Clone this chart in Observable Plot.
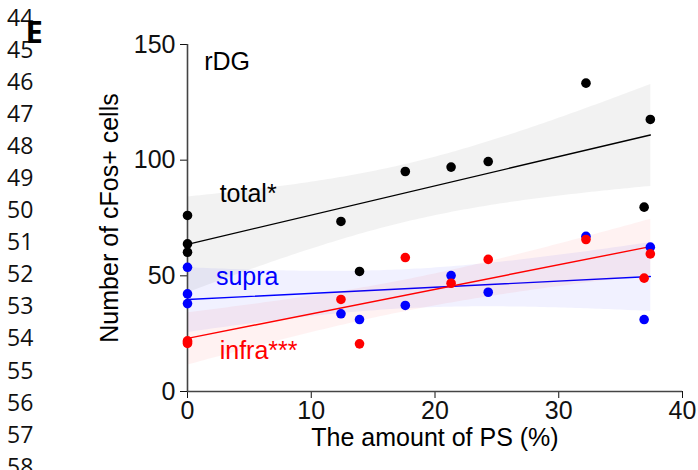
<!DOCTYPE html>
<html>
<head>
<meta charset="utf-8">
<script src="https://cdn.jsdelivr.net/npm/d3@7"></script>
<script src="https://cdn.jsdelivr.net/npm/@observablehq/plot@0.6"></script>
<style>
  html, body { margin: 0; padding: 0; background: #fff; }
  #wrap { position: relative; width: 698px; height: 470px; overflow: hidden; }
  #chart { position: absolute; left: 0; top: 0; }
  #lines { position: absolute; left: 7px; top: 0.5px; font-family: "Open Sans", sans-serif; font-size: 23px; line-height: 32.1px; color: #111; z-index: 2; }
  #panel { position: absolute; left: 25.5px; top: 15.6px; font-family: "Open Sans", sans-serif; font-weight: 700; font-size: 31px; line-height: 31px; color: #000; z-index: 3; }
</style>
</head>
<body>
<div id="wrap">
  <div id="chart"></div>
  <div id="lines"></div>
  <div id="panel">E</div>
</div>
<script>
// ---- data ----
const lineNumbers = [44, 45, 46, 47, 48, 49, 50, 51, 52, 53, 54, 55, 56, 57, 58];
const ps    = [0, 0, 0, 12.4, 13.9, 17.6, 21.3, 24.3, 32.2, 36.9, 37.4];
const total = [76.1, 63.8, 60.2, 73.5, 51.9, 95.1, 97.0, 99.4, 133.3, 79.7, 117.6];
const supra = [53.7, 42.2, 38.0, 33.6, 31.1, 37.2, 50.1, 42.9, 67.1, 31.1, 62.4];
const infra = [21.9, 20.8, 21.4, 39.8, 20.6, 57.9, 46.8, 57.1, 65.7, 49.0, 59.5];
const xTicks = [0, 10, 20, 30, 40];
const yTicks = [0, 50, 100, 150];
const xLabel = "The amount of PS (%)";
const yLabel = "Number of cFos+ cells";
const panelTitle = "rDG";
const seriesLabels = ["total*", "supra", "infra***"];

document.getElementById("lines").innerHTML = lineNumbers.map(n => `<div>${n}</div>`).join("");

const rows = ps.map((x, i) => ({ps: x, total: total[i], supra: supra[i], infra: infra[i]}));

const chart = Plot.plot({
  width: 698,
  height: 470,
  marginLeft: 187,
  marginRight: 16,
  marginTop: 44,
  marginBottom: 79,
  style: {fontFamily: "'Liberation Sans', Arial, sans-serif", fontSize: "25px", color: "#111", background: "transparent", overflow: "visible"},
  x: {domain: [0, 40], ticks: xTicks, tickSize: 7, tickPadding: 3, label: null},
  y: {domain: [0, 150], ticks: yTicks, tickSize: 7, tickPadding: 5, label: null},
  marks: [
    Plot.linearRegressionY(rows, {x: "ps", y: "total", stroke: "#000", fill: "#000", fillOpacity: 0.05, strokeWidth: 1.4}),
    Plot.linearRegressionY(rows, {x: "ps", y: "supra", stroke: "#0000ff", fill: "#0000ff", fillOpacity: 0.055, strokeWidth: 1.4}),
    Plot.linearRegressionY(rows, {x: "ps", y: "infra", stroke: "#ff0000", fill: "#ff0000", fillOpacity: 0.05, strokeWidth: 1.4}),
    Plot.ruleX([0], {y1: 0, y2: 150, stroke: "#444", strokeWidth: 1.6}),
    Plot.ruleY([0], {x1: 0, x2: 40, stroke: "#444", strokeWidth: 1.6}),
    Plot.dot(rows, {x: "ps", y: "total", r: 4.8, fill: "#000"}),
    Plot.dot(rows, {x: "ps", y: "supra", r: 4.8, fill: "#0000ff"}),
    Plot.dot(rows, {x: "ps", y: "infra", r: 4.8, fill: "#ff0000"}),
    Plot.text([panelTitle], {x: 1.35, y: 142.5, text: d => d, textAnchor: "start", fill: "#000", fontSize: 25}),
    Plot.text([seriesLabels[0]], {x: 2.6, y: 85.2, text: d => d, textAnchor: "start", fill: "#000", fontSize: 25}),
    Plot.text([seriesLabels[1]], {x: 2.3, y: 49.3, text: d => d, textAnchor: "start", fill: "#0000ff", fontSize: 25}),
    Plot.text([seriesLabels[2]], {x: 2.6, y: 17.7, text: d => d, textAnchor: "start", fill: "#ff0000", fontSize: 25}),
    Plot.text([yLabel], {frameAnchor: "left", dx: -78, rotate: -90, text: d => d, textAnchor: "middle", fill: "#000", fontSize: 25}),
    Plot.text([xLabel], {frameAnchor: "bottom", dy: 54, text: d => d, textAnchor: "middle", fill: "#000", fontSize: 25})
  ]
});
document.getElementById("chart").appendChild(chart);
</script>
</body>
</html>
